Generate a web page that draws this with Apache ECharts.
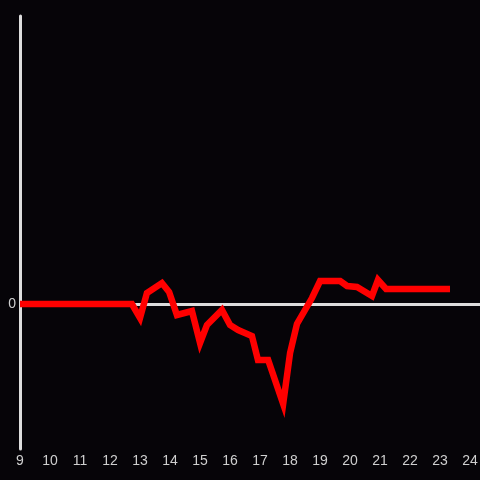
<!DOCTYPE html>
<html>
<head>
<meta charset="utf-8">
<script src="https://cdn.jsdelivr.net/npm/echarts@6/dist/echarts.min.js"></script>
<style>
  html, body { margin: 0; padding: 0; background: #060408; }
  #chart { width: 480px; height: 480px; }
</style>
</head>
<body>
<div id="chart"></div>
<script>
// hours of day vs. relative value (0 = baseline)
const hours = [9, 12.73, 13.0, 13.23, 13.73, 13.97, 14.23, 14.73, 15.0, 15.23, 15.73, 16.0, 16.27, 16.73, 16.93, 17.27, 17.77, 18.0, 18.23, 18.73, 19.0, 19.67, 19.9, 20.23, 20.73, 20.93, 21.2, 23.33];
const values = [0, 0, -14, 11, 21, 12, -11, -7, -39, -21, -6, -21, -26, -32, -56, -56, -100, -49, -20, 6, 23, 23, 18, 17, 8, 24, 15, 15];

const xTicks = { min: 9, max: 24.33, step: 1 };
const yRange = { min: -145, max: 288 };

const chart = echarts.init(document.getElementById('chart'));
const labelColor = '#cfcfcf';
const axisColor = '#dddddd';

chart.setOption({
  backgroundColor: '#060408',
  animation: false,
  grid: { left: 20, right: 0, top: 16, bottom: 31, outerBoundsMode: 'none', containLabel: false },
  xAxis: {
    type: 'value',
    min: xTicks.min,
    max: xTicks.max,
    interval: xTicks.step,
    axisLine: { show: false },
    axisTick: { show: false },
    splitLine: { show: false },
    axisLabel: {
      color: labelColor,
      fontSize: 14,
      fontFamily: 'Liberation Sans, Arial, sans-serif',
      margin: 5,
      formatter: v => (Number.isInteger(v) ? String(v) : '')
    }
  },
  yAxis: {
    type: 'value',
    min: yRange.min,
    max: yRange.max,
    axisLine: { show: true, onZero: false, lineStyle: { color: axisColor, width: 3 } },
    axisTick: { show: false },
    splitLine: { show: false },
    axisLabel: {
      color: labelColor,
      fontSize: 14,
      fontFamily: 'Liberation Sans, Arial, sans-serif',
      margin: 4,
      formatter: v => (v === 0 ? '0' : '')
    }
  },
  series: [
    {
      type: 'line',
      data: [],
      z: 1,
      markLine: {
        z: 1,
        silent: true,
        symbol: 'none',
        label: { show: false },
        lineStyle: { color: axisColor, width: 3, type: 'solid' },
        data: [{ yAxis: 0 }]
      }
    },
    {
      type: 'line',
      z: 3,
      data: hours.map((h, i) => [h, values[i]]),
      showSymbol: false,
      lineStyle: { color: '#ff0000', width: 6.5, cap: 'butt', join: 'miter' }
    }
  ]
});
</script>
</body>
</html>
